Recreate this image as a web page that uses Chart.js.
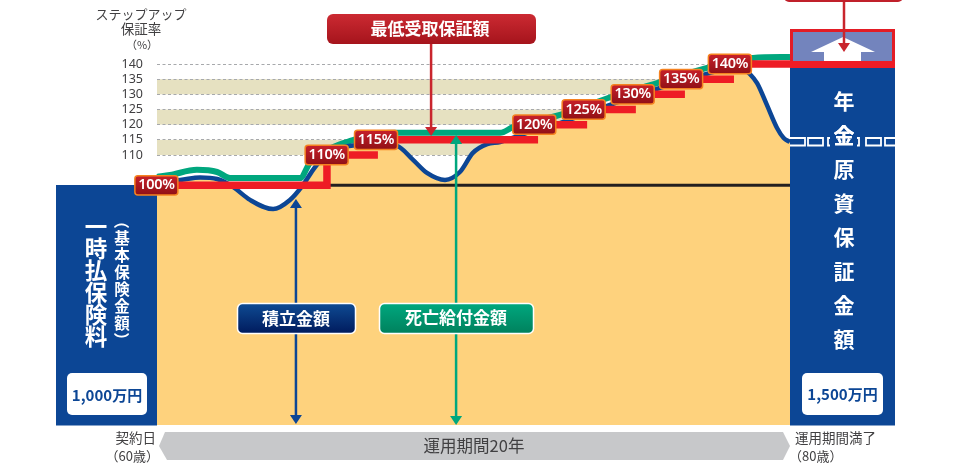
<!DOCTYPE html>
<html lang="ja">
<head>
<meta charset="utf-8">
<title>ステップアップ保証率</title>
<script src="https://cdn.jsdelivr.net/npm/chart.js@4/dist/chart.umd.js"></script>
<style>
    html, body { margin: 0; padding: 0; background: #fff; }
    canvas { display: block; }
</style>
</head>
<body>
<canvas id="stepChart" width="960" height="475"></canvas>
<script>
// values: x = years since contract, y = percent of premium
const yTicks = [110, 115, 120, 125, 130, 135, 140];
const bandRanges = [[110, 115], [120, 125], [130, 135]];

const fundYears = [0, 0.73, 1.36, 1.9, 2.4, 2.94, 3.67, 4.2, 4.61, 4.93, 5.24, 5.78, 6.26, 6.89, 7.58, 8.09, 8.53, 9.1, 9.57, 9.98, 10.43, 10.84, 11.69, 12.64, 14.31, 15.8, 17.25, 18.1, 18.48, 18.67, 18.96, 19.27, 19.59, 19.8, 20];
const fundValues = [101.4, 101.8, 102.6, 102.1, 99.5, 95.2, 92.2, 95.2, 100.1, 105.1, 109, 112.2, 113.2, 113.6, 113, 108.4, 104.1, 101.8, 104.4, 110.7, 113.6, 114.3, 117.3, 120.2, 126.5, 131.8, 136.4, 138.7, 139.3, 137.4, 133.7, 126.5, 118.9, 115.6, 114.3];

const deathYears = [0, 0.41, 1.26, 1.9, 2.31, 4.52, 4.83, 5.56, 6.19, 6.89, 7.61, 10.84, 11.25, 12.73, 14.25, 15.8, 17.38, 18.83, 20];
const deathValues = [102.8, 103.4, 105.1, 104.4, 102.4, 102.4, 107.4, 112.6, 114.9, 116.9, 117.3, 117.3, 119.2, 123.2, 128.8, 133.7, 138.7, 142, 142.3];

const stepRates = [100, 110, 115, 120, 125, 130, 135, 140];
const stepStarts = [0, 5.37, 6.98, 12.04, 13.59, 15.13, 16.68, 18.23];
const stepEnds = [5.37, 6.98, 12.04, 13.59, 15.13, 16.68, 18.23, 20];
const labelYears = [-0.02, 5.36, 6.92, 11.92, 13.48, 15.03, 16.56, 18.1];

const baseYears = [0, 20];
const baseValues = [100, 100];

const navy = '#0c4695';
const textGray = '#414042';
const jpFont = '"Noto Sans CJK JP", sans-serif';
const numFont = '"Noto Sans", sans-serif';

function toPoints(xs, ys) {
    return xs.map((x, i) => ({ x: x, y: ys[i] }));
}

// red staircase, each step ends with a gap; the first one climbs to the second
const stepPoints = [];
stepRates.forEach((rate, i) => {
    stepPoints.push({ x: stepStarts[i], y: rate }, { x: stepEnds[i], y: rate });
    if (i === 0) {
        stepPoints.push({ x: stepEnds[i], y: stepRates[1] });
    }
    stepPoints.push({ x: stepEnds[i], y: null });
});

function box(ctx, x, y, w, h, r, fill, stroke, lineWidth) {
    ctx.beginPath();
    ctx.roundRect(x, y, w, h, r);
    ctx.fillStyle = fill;
    ctx.fill();
    if (stroke) {
        ctx.strokeStyle = stroke;
        ctx.lineWidth = lineWidth;
        ctx.stroke();
    }
}

function gradient(ctx, top, bottom, from, to) {
    const g = ctx.createLinearGradient(0, top, 0, bottom);
    g.addColorStop(0, from);
    g.addColorStop(1, to);
    return g;
}

function label(ctx, text, x, y, font, color, align) {
    ctx.font = font;
    ctx.fillStyle = color;
    ctx.textAlign = align || 'center';
    ctx.textBaseline = 'middle';
    ctx.fillText(text, x, y);
}

function arrow(ctx, x, top, bottom, color, bothEnds) {
    ctx.strokeStyle = color;
    ctx.fillStyle = color;
    ctx.lineWidth = 2.5;
    ctx.beginPath();
    ctx.moveTo(x, top + 4);
    ctx.lineTo(x, bottom - 4);
    ctx.stroke();
    ctx.beginPath();
    ctx.moveTo(x - 6, bottom - 9);
    ctx.lineTo(x + 6, bottom - 9);
    ctx.lineTo(x, bottom);
    ctx.closePath();
    ctx.fill();
    if (bothEnds) {
        ctx.beginPath();
        ctx.moveTo(x - 6, top + 9);
        ctx.lineTo(x + 6, top + 9);
        ctx.lineTo(x, top);
        ctx.closePath();
        ctx.fill();
    }
}

function verticalText(ctx, chars, x, startY, gap, font) {
    chars.forEach((ch, i) => {
        const y = startY + i * gap;
        if (ch === '（' || ch === '）') {
            ctx.save();
            ctx.translate(x, y);
            ctx.rotate(Math.PI / 2);
            label(ctx, ch, 0, 0, font, '#fff');
            ctx.restore();
        } else {
            label(ctx, ch, x, y, font, '#fff');
        }
    });
}

const backgroundPlugin = {
    id: 'background',
    beforeDatasetsDraw(chart) {
        const ctx = chart.ctx;
        const yScale = chart.scales.y;
        const left = chart.chartArea.left;
        const right = 740;
        ctx.save();
        bandRanges.forEach(range => {
            const top = yScale.getPixelForValue(range[1]);
            const bottom = yScale.getPixelForValue(range[0]);
            ctx.fillStyle = '#e6e1c1';
            ctx.fillRect(left, top, right - left, bottom - top);
        });
        ctx.strokeStyle = '#a7a9ac';
        ctx.lineWidth = 1;
        ctx.setLineDash([3, 2.5]);
        yTicks.forEach(tick => {
            const y = Math.floor(yScale.getPixelForValue(tick)) + 0.5;
            ctx.beginPath();
            ctx.moveTo(left, y);
            ctx.lineTo(right, y);
            ctx.stroke();
        });
        ctx.restore();
    }
};

const overlayPlugin = {
    id: 'overlay',
    afterDatasetsDraw(chart) {
        const ctx = chart.ctx;
        const xScale = chart.scales.x;
        const yScale = chart.scales.y;
        ctx.save();

        // axis heading
        label(ctx, 'ステップアップ', 141, 14, '13px ' + jpFont, textGray);
        label(ctx, '保証率', 141, 29, '13.5px ' + jpFont, textGray);
        label(ctx, '（%）', 142, 45, '11px ' + jpFont, textGray);

        // side panels
        ctx.fillStyle = navy;
        ctx.fillRect(56, 185, 101, 240.5);
        ctx.fillRect(790, 66, 105, 359.5);

        verticalText(ctx, [...'一時払保険料'], 96, 226, 22, 'bold 22.5px ' + jpFont);
        verticalText(ctx, [...'（基本保険金額）'], 122, 221, 17, 'bold 15.5px ' + jpFont);
        verticalText(ctx, [...'年金原資保証金額'], 844, 101, 34, 'bold 21px ' + jpFont);

        // white boxes along the fund line inside the right panel
        ctx.strokeStyle = '#fff';
        ctx.lineWidth = 1.8;
        [790, 808, 866, 885].forEach(x => {
            const w = x === 885 ? 10 : 15;
            ctx.beginPath();
            if (x === 790) {
                ctx.moveTo(x, 138);
                ctx.lineTo(x + w, 138);
                ctx.lineTo(x + w, 145.5);
                ctx.lineTo(x, 145.5);
            } else if (x === 885) {
                ctx.moveTo(x + w, 138);
                ctx.lineTo(x, 138);
                ctx.lineTo(x, 145.5);
                ctx.lineTo(x + w, 145.5);
            } else {
                ctx.rect(x, 138, w, 7.5);
            }
            ctx.stroke();
        });
        ctx.beginPath();
        ctx.moveTo(830, 138);
        ctx.lineTo(828, 138);
        ctx.lineTo(828, 145.5);
        ctx.lineTo(830, 145.5);
        ctx.moveTo(857, 138);
        ctx.lineTo(859, 138);
        ctx.lineTo(859, 145.5);
        ctx.lineTo(857, 145.5);
        ctx.stroke();
        verticalText(ctx, ['金'], 844, 135, 0, 'bold 21px ' + jpFont);

        box(ctx, 67, 373, 80, 42, 5, '#fff');
        label(ctx, '1,000万円', 107, 395, 'bold 15px ' + jpFont, navy);
        box(ctx, 802, 373, 81, 42, 5, '#fff');
        label(ctx, '1,500万円', 842.5, 394, 'bold 15px ' + jpFont, navy);

        // purple box on top of the right panel
        ctx.fillStyle = '#7384bd';
        ctx.fillRect(790, 29, 105, 36);
        ctx.fillStyle = '#fff';
        ctx.beginPath();
        ctx.moveTo(811, 52);
        ctx.lineTo(843, 37);
        ctx.lineTo(875, 52);
        ctx.lineTo(861, 52);
        ctx.lineTo(861, 62);
        ctx.lineTo(824, 62);
        ctx.lineTo(824, 52);
        ctx.closePath();
        ctx.fill();
        ctx.strokeStyle = '#e31c25';
        ctx.lineWidth = 3;
        ctx.strokeRect(791.5, 30.5, 102, 33);
        ctx.fillStyle = '#ee1c25';
        ctx.fillRect(790, 61, 105, 7);

        // arrows
        arrow(ctx, xScale.getPixelForValue(4.39), 199, 424, navy, true);
        arrow(ctx, xScale.getPixelForValue(9.45), 135, 425, '#00a77e', true);
        arrow(ctx, xScale.getPixelForValue(8.66), 40, 136, '#c9252d', false);
        arrow(ctx, 844, -4, 52, '#c9252d', false);

        // call-outs
        box(ctx, 784, -12, 119, 14, 5, '#c0202a');
        box(ctx, 327, 14, 209, 30, 6, gradient(ctx, 14, 44, '#cc2a32', '#a5141c'));
        label(ctx, '最低受取保証額', 430, 29, 'bold 17px ' + jpFont, '#fff');
        box(ctx, 237.5, 303.5, 118, 30, 5, gradient(ctx, 304, 334, '#0e4a92', '#001a5c'), '#fff', 1.5);
        label(ctx, '積立金額', 296, 318.5, 'bold 17px ' + jpFont, '#fff');
        box(ctx, 379.5, 303.5, 154, 30, 5, gradient(ctx, 304, 334, '#00a77e', '#00805c'), '#fff', 1.5);
        label(ctx, '死亡給付金額', 456, 318, 'bold 17px ' + jpFont, '#fff');

        // step labels sit on their step
        stepRates.forEach((rate, i) => {
            const x = xScale.getPixelForValue(labelYears[i]);
            const y = yScale.getPixelForValue(rate);
            box(ctx, x - 21.5, y - 9.7, 43, 19.4, 3, gradient(ctx, y - 10, y + 10, '#c8202a', '#8f1016'), '#f58220', 1.5);
            ctx.letterSpacing = '-0.3px';
            label(ctx, rate + '%', x, y, '600 14.5px ' + numFont, '#fff');
            ctx.letterSpacing = '0px';
        });

        // period bar
        ctx.fillStyle = '#c7c8ca';
        ctx.beginPath();
        ctx.moveTo(159, 446);
        ctx.lineTo(165, 432);
        ctx.lineTo(783, 432);
        ctx.lineTo(790, 446);
        ctx.lineTo(783, 460);
        ctx.lineTo(167, 460);
        ctx.closePath();
        ctx.fill();
        label(ctx, '運用期間20年', 474, 446, '16.5px ' + jpFont, textGray);
        label(ctx, '契約日', 156, 438, '13.5px ' + jpFont, textGray, 'right');
        label(ctx, '（60歳）', 159, 456, '13px ' + jpFont, textGray, 'right');
        label(ctx, '運用期間満了', 795, 438, '13.5px ' + jpFont, textGray, 'left');
        label(ctx, '（80歳）', 789, 456, '13px ' + jpFont, textGray, 'left');

        ctx.restore();
    }
};

const ctx = document.getElementById('stepChart').getContext('2d');

new Chart(ctx, {
    type: 'line',
    data: {
        datasets: [
            {
                label: '最低受取保証額',
                data: stepPoints,
                borderColor: '#ee1c25',
                borderWidth: 7.5,
                borderCapStyle: 'butt',
                borderJoinStyle: 'miter',
                pointRadius: 0,
                spanGaps: false,
                clip: false,
                order: 1
            },
            {
                label: '基本保険金額',
                data: toPoints(baseYears, baseValues),
                borderColor: '#231f20',
                borderWidth: 3,
                pointRadius: 0,
                clip: false,
                order: 2
            },
            {
                label: '積立金額',
                data: toPoints(fundYears, fundValues),
                borderColor: navy,
                borderWidth: 4.5,
                backgroundColor: '#fed27d',
                fill: 'start',
                cubicInterpolationMode: 'monotone',
                pointRadius: 0,
                clip: false,
                order: 3
            },
            {
                label: '死亡給付金額',
                data: toPoints(deathYears, deathValues),
                borderColor: '#00a77e',
                borderWidth: 6,
                cubicInterpolationMode: 'monotone',
                pointRadius: 0,
                clip: false,
                order: 4
            }
        ]
    },
    options: {
        responsive: false,
        animation: false,
        layout: {
            padding: { top: 64, right: 170, bottom: 50, left: 0 }
        },
        plugins: {
            legend: { display: false },
            tooltip: { enabled: false }
        },
        scales: {
            x: {
                type: 'linear',
                min: 0,
                max: 20,
                display: false
            },
            y: {
                min: 21,
                max: 140,
                afterFit: function(scale) {
                    scale.width = 157;
                },
                border: { display: false },
                grid: { display: false },
                ticks: {
                    stepSize: 5,
                    autoSkip: false,
                    padding: 6,
                    color: textGray,
                    font: { size: 12.5, family: '"Noto Sans", sans-serif' },
                    callback: function(value) {
                        return yTicks.includes(value) ? value : '';
                    }
                }
            }
        }
    },
    plugins: [backgroundPlugin, overlayPlugin]
});
</script>
</body>
</html>
